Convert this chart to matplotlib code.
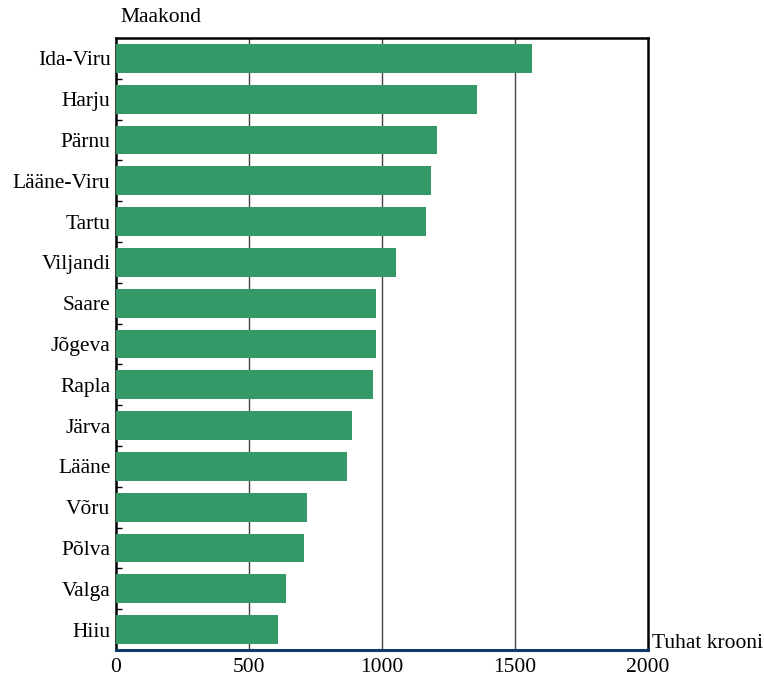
import matplotlib
matplotlib.use("Agg")
import matplotlib.pyplot as plt
import numpy as np

categories = ["Ida-Viru", "Harju", "Pärnu", "Lääne-Viru", "Tartu", "Viljandi", "Saare",
              "Jõgeva", "Rapla", "Järva", "Lääne", "Võru", "Põlva", "Valga", "Hiiu"]
values = [1564, 1357, 1207, 1184, 1165, 1053, 977, 977, 966, 887, 868, 718, 707, 639, 609]
xticks = [0, 500, 1000, 1500, 2000]

plt.rcParams['font.family'] = ['Liberation Serif', 'DejaVu Serif']
FS = 15.5

fig = plt.figure(figsize=(7.64, 6.79), dpi=100)
ax = fig.add_axes([116/764, 1-650/679, (648-116)/764, (650-38)/679])

n = len(categories)
y = np.arange(n)
ax.barh(y, values, height=0.71, color='#339966', zorder=3)
ax.set_ylim(n - 0.5, -0.5)
ax.set_xlim(0, 2000)

ax.set_yticks(y)
ax.set_yticklabels(categories, fontsize=FS)
ax.tick_params(axis='y', length=0, pad=4)
ax.set_yticks(np.arange(n) + 0.5, minor=True)
ax.tick_params(axis='y', which='minor', length=4, direction='in', width=1.0)

ax.set_xticks(xticks)
ax.set_xticklabels([str(t) for t in xticks], fontsize=FS)
ax.tick_params(axis='x', length=0, pad=6)

for t in xticks[1:-1]:
    ax.axvline(t, color='#444444', lw=1.0, zorder=1)

for side in ['top', 'right', 'left']:
    ax.spines[side].set_color('black')
    ax.spines[side].set_linewidth(1.8)
ax.spines['bottom'].set_color('#0d3a6b')
ax.spines['bottom'].set_linewidth(2.2)

fig.text(120/764, 1-18/679, "Maakond", fontsize=FS, ha='left', va='center')
fig.text(652/764, 1-643/679, "Tuhat krooni", fontsize=FS, ha='left', va='center')

fig.savefig("out.png", dpi=100)
